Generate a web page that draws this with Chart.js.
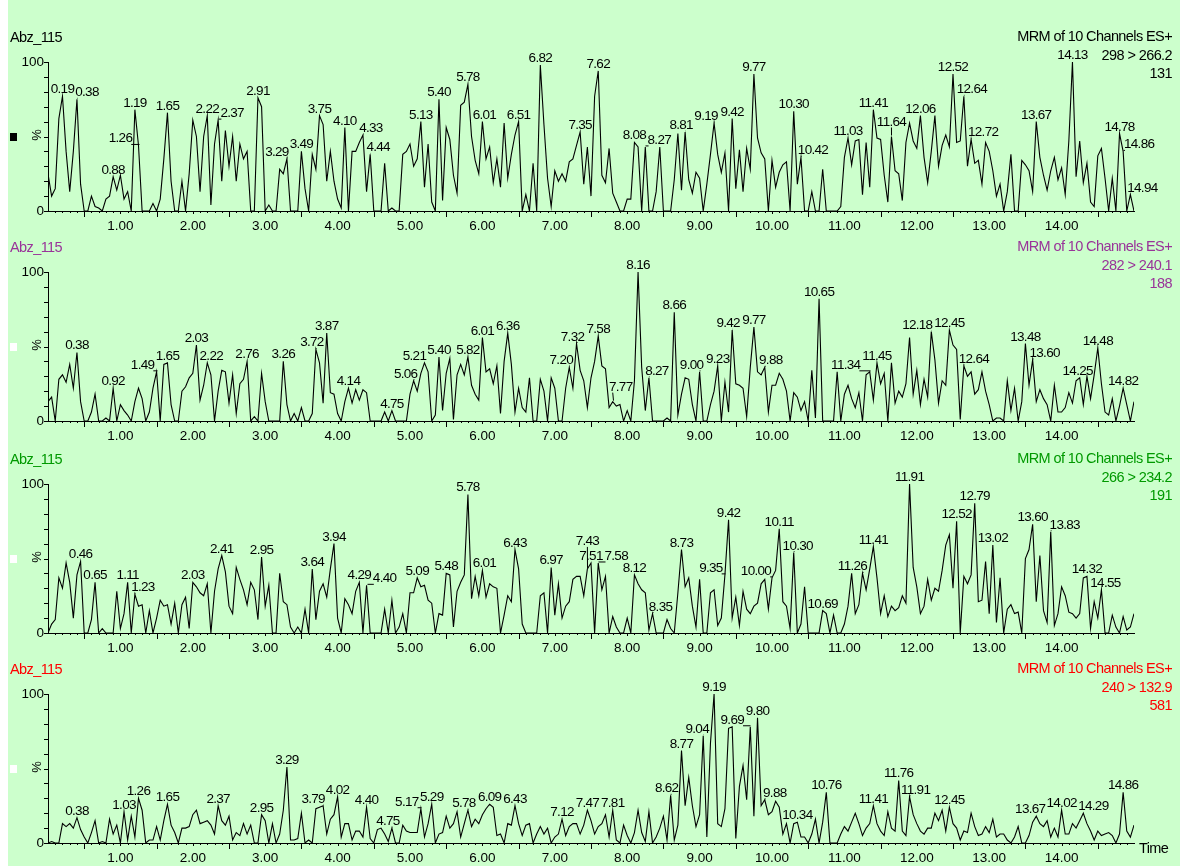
<!DOCTYPE html>
<html>
<head>
<meta charset="utf-8">
<title>Abz_115 MRM chromatograms</title>
<script src="https://cdn.jsdelivr.net/npm/chart.js@4.4.0/dist/chart.umd.min.js"></script>
<style>
  html, body { margin: 0; padding: 0; background: #ffffff; }
  #page { position: relative; width: 1180px; height: 866px; overflow: hidden; }
  #bg { position: absolute; left: 8px; top: 0; width: 1172px; height: 866px; background: #ccffcc; }
  #page canvas { position: absolute; left: 0; top: 0; }
</style>
</head>
<body>
<div id="page">
  <div id="bg"></div>
  <canvas id="c1" width="1180" height="866"></canvas>
  <canvas id="c2" width="1180" height="866"></canvas>
  <canvas id="c3" width="1180" height="866"></canvas>
  <canvas id="c4" width="1180" height="866"></canvas>
</div>
<script>
// samples every 0.05 min from 0.00 to 15.00, one row per minute
const STEP = 0.05;
const X_MAX = 15;

const P1_VALUES = [
  25,10,15,62,77,40,13,40,75,18,0,0,10,3,2,0,8,10,23,14,
  24,8,13,0,68,44,0,0,0,5,0,8,35,66,20,0,0,20,0,25,
  61,50,13,50,64,4,45,61,20,54,30,50,20,45,35,40,0,0,76,70,
  0,4,0,0,28,25,35,0,0,0,40,15,0,38,28,64,58,20,40,20,
  8,2,56,0,40,40,46,51,13,38,0,0,0,32,0,2,0,0,38,40,
  45,30,35,60,16,45,6,0,75,7,56,48,24,12,71,73,85,50,34,25,
  60,35,43,19,35,16,59,22,38,51,60,0,11,0,32,0,98,58,22,3,
  27,20,25,20,33,35,44,53,18,43,10,77,94,24,19,42,12,6,0,0,
  8,8,46,43,0,43,0,0,13,43,0,0,0,21,52,14,53,21,12,26,
  22,0,18,38,59,38,26,39,0,62,15,41,13,42,28,92,49,39,35,0,
  34,16,26,31,33,0,67,18,36,0,0,13,0,0,28,0,0,0,0,3,
  36,49,31,47,48,11,46,16,68,49,48,24,6,50,27,25,7,46,59,47,
  42,64,36,19,40,64,30,44,51,43,92,46,47,77,30,48,32,34,18,46,
  40,27,10,18,0,13,38,0,0,34,31,27,13,60,36,24,14,27,36,21,
  29,11,47,100,23,47,19,32,6,3,37,42,22,0,22,0,52,40,0,11,
  0
];
const P2_VALUES = [
  13,16,0,28,31,26,38,22,46,13,0,0,6,18,0,0,2,0,22,0,
  11,7,4,0,13,22,15,0,6,22,33,0,38,39,11,0,0,20,23,29,
  32,51,14,24,39,31,0,20,34,33,12,31,5,25,28,40,0,3,0,32,
  13,0,0,0,0,40,11,0,5,0,9,0,0,5,48,39,12,59,19,18,
  5,0,13,22,12,21,14,21,19,0,0,0,0,6,0,7,0,0,0,0,
  18,27,20,32,39,33,0,4,43,7,32,42,1,31,38,31,43,24,18,14,
  56,33,35,25,37,5,40,59,38,6,22,9,6,29,0,0,28,20,0,29,
  22,0,0,22,36,22,52,34,27,9,29,40,57,37,35,9,13,10,11,0,
  7,0,27,100,36,7,29,0,0,0,0,2,0,73,4,18,29,28,11,0,
  33,0,0,11,20,37,0,26,6,61,25,24,22,3,36,63,33,31,36,6,
  24,24,32,28,20,0,19,16,7,13,0,34,2,82,0,0,0,0,33,0,
  18,24,15,9,19,0,31,33,14,39,25,32,0,39,12,20,16,25,56,18,
  34,11,28,16,60,41,12,27,24,61,51,48,1,37,30,33,18,21,33,20,
  11,0,2,2,0,27,7,22,0,13,52,24,41,13,21,15,11,0,24,6,
  6,9,19,12,27,29,11,30,15,31,49,25,6,4,15,0,10,22,11,0,
  13
];
const P3_VALUES = [
  0,6,9,37,30,47,34,10,39,48,0,0,9,34,0,3,0,0,0,28,
  3,13,34,0,26,18,19,0,15,0,10,22,18,19,6,20,0,19,24,3,
  34,31,27,25,33,0,28,43,52,41,18,13,44,36,29,19,34,29,9,51,
  18,32,0,0,40,21,19,4,0,4,0,16,0,43,9,28,33,24,43,60,
  10,0,23,19,13,28,34,0,32,0,0,0,0,16,0,22,0,4,13,0,
  27,27,37,31,32,22,20,0,13,12,40,39,4,28,34,39,93,23,38,25,
  42,24,33,31,30,0,12,25,21,56,43,6,0,0,0,0,25,27,0,44,
  12,33,10,18,21,36,38,38,25,43,47,0,47,29,38,0,11,4,0,0,
  10,0,39,33,29,27,2,13,0,0,0,9,3,0,27,56,31,37,18,4,
  36,0,0,27,29,5,10,39,76,10,24,5,28,16,13,18,20,33,36,16,
  37,42,70,21,18,3,54,0,6,31,0,0,0,0,15,13,0,12,0,0,
  6,18,40,13,19,40,29,43,58,37,13,25,11,18,15,17,25,20,100,44,
  31,13,18,36,22,30,28,42,59,66,30,75,0,38,33,39,87,21,22,48,
  13,59,7,37,0,16,19,13,14,0,50,56,73,21,52,15,7,68,5,13,
  31,25,14,13,10,13,37,38,3,21,10,29,0,0,12,4,0,11,2,4,
  13
];
const P4_VALUES = [
  0,1,0,0,13,11,13,10,17,9,4,0,7,15,0,1,0,16,6,12,
  0,21,2,18,4,30,22,0,2,2,11,2,15,26,12,7,0,10,10,11,
  19,22,13,14,15,12,6,25,15,12,18,2,7,5,13,6,12,0,0,19,
  15,0,13,0,6,22,51,2,2,3,20,0,2,0,23,24,25,6,16,19,
  31,4,13,13,2,8,8,4,24,3,0,9,10,6,1,10,0,0,12,8,
  7,7,7,23,4,13,26,0,6,7,18,10,13,21,4,13,22,11,16,13,
  19,23,26,24,5,6,0,13,12,25,13,5,12,13,0,6,11,6,10,0,
  4,6,16,5,11,13,13,6,12,22,15,6,11,13,19,4,22,2,0,12,
  5,0,7,22,7,1,21,0,4,10,18,2,32,2,12,62,25,44,25,11,
  19,72,4,67,100,13,11,23,77,78,3,38,52,29,78,18,84,25,29,19,
  21,28,24,6,13,0,13,14,4,4,0,6,16,0,14,34,0,0,0,6,
  11,8,14,20,13,5,10,13,25,13,8,5,21,10,8,42,8,5,31,19,
  13,8,6,10,10,20,15,22,8,24,13,10,2,8,7,20,11,5,6,11,
  7,16,4,6,6,2,0,4,11,0,0,5,14,18,13,11,15,4,10,4,
  22,6,6,13,10,15,20,13,8,2,8,5,6,7,5,0,6,34,8,4,
  12
];

// labelled retention times (min)
const P1_PEAKS = [0.19,0.38,0.88,1.19,1.26,1.65,2.22,2.37,2.91,3.29,3.49,3.75,4.10,4.33,4.44,5.13,5.40,5.78,6.01,6.51,6.82,7.35,7.62,8.08,8.27,8.81,9.19,9.42,9.77,10.30,10.42,11.03,11.41,11.64,12.06,12.52,12.64,12.72,13.67,14.13,14.78,14.86,14.94];
const P2_PEAKS = [0.38,0.92,1.49,1.65,2.03,2.22,2.76,3.26,3.72,3.87,4.14,4.75,5.06,5.21,5.40,5.82,6.01,6.36,7.20,7.32,7.58,7.77,8.16,8.27,8.66,9.00,9.23,9.42,9.77,9.88,10.65,11.34,11.45,12.18,12.45,12.64,13.48,13.60,14.25,14.48,14.82];
const P3_PEAKS = [0.46,0.65,1.11,1.23,2.03,2.41,2.95,3.64,3.94,4.29,4.40,5.09,5.48,5.78,6.01,6.43,6.97,7.43,7.51,7.58,8.12,8.35,8.73,9.35,9.42,10.00,10.11,10.30,10.69,11.26,11.41,11.91,12.52,12.79,13.02,13.60,13.83,14.32,14.55];
const P4_PEAKS = [0.38,1.03,1.26,1.65,2.37,2.95,3.29,3.79,4.02,4.40,4.75,5.17,5.29,5.78,6.09,6.43,7.12,7.47,7.81,8.62,8.77,9.04,9.19,9.69,9.80,9.88,10.34,10.76,11.41,11.76,11.91,12.45,13.67,14.02,14.29,14.86];

const TRANSITIONS = ['298 > 266.2', '282 > 240.1', '266 > 234.2', '240 > 132.9'];
const COUNTS = ['131', '188', '191', '581'];

const FONT = '"Liberation Sans", Arial, sans-serif';
const CAP = 10;

const panels = [
  { canvas: 'c1', values: P1_VALUES, peaks: P1_PEAKS, top: 62, bottom: 211, color: '#000000', marker: '#000000' },
  { canvas: 'c2', values: P2_VALUES, peaks: P2_PEAKS, top: 272, bottom: 421, color: '#993399', marker: '#ffffff' },
  { canvas: 'c3', values: P3_VALUES, peaks: P3_PEAKS, top: 484, bottom: 633, color: '#009900', marker: '#ffffff' },
  { canvas: 'c4', values: P4_VALUES, peaks: P4_PEAKS, top: 694, bottom: 843, color: '#ff0000', marker: '#ffffff', time: true },
];

const decorPlugin = {
  id: 'decor',
  afterDraw(chart, args, o) {
    const { ctx, chartArea: a, scales: { x, y } } = chart;
    ctx.save();
    ctx.strokeStyle = '#000';
    ctx.lineWidth = 1;
    ctx.beginPath();
    for (let v = 0; v <= 100; v += 10) {
      const py = Math.round(y.getPixelForValue(v)) + 0.5;
      ctx.moveTo(a.left - 4, py);
      ctx.lineTo(a.left, py);
    }
    for (let k = 1; k < X_MAX * 10; k++) {
      const px = Math.round(x.getPixelForValue(k / 10)) + 0.5;
      const len = k % 5 === 0 ? (k % 10 === 0 ? 3 : 6) : 2;
      ctx.moveTo(px, a.bottom);
      ctx.lineTo(px, a.bottom + len);
    }
    ctx.stroke();

    ctx.fillStyle = o.color;
    ctx.font = '14.5px ' + FONT;
    ctx.letterSpacing = '-0.6px';
    ctx.textBaseline = 'middle';
    ctx.textAlign = 'left';
    ctx.fillText('Abz_115', 10, a.top - 24.5);
    ctx.textAlign = 'right';
    ctx.fillText('MRM of 10 Channels ES+', 1172, a.top - 25);
    ctx.fillText(o.transition, 1172, a.top - 6);
    ctx.fillText(o.count, 1172, a.top + 12);

    ctx.fillStyle = o.marker;
    ctx.fillRect(10, a.top + 71, 7, 8);

    ctx.fillStyle = '#000';
    ctx.letterSpacing = '0px';
    ctx.save();
    ctx.translate(37.5, a.top + 73);
    ctx.rotate(-Math.PI / 2);
    ctx.textAlign = 'center';
    ctx.font = '13px ' + FONT;
    ctx.fillText('%', 0, 0);
    ctx.restore();

    if (o.time) {
      ctx.textAlign = 'left';
      ctx.font = '14.5px ' + FONT;
      ctx.letterSpacing = '-0.6px';
      ctx.fillText('Time', 1139, a.bottom + 6);
    }
    ctx.restore();
  }
};

// peak labels: highest peaks first, each label moved sideways/up (with a leader)
// when it would sit on another label or on the trace
const peakLabelPlugin = {
  id: 'peakLabels',
  afterDatasetsDraw(chart, args, o) {
    const { ctx, scales: { x, y } } = chart;
    const values = o.values;
    const vx = values.map((v, i) => x.getPixelForValue(i * STEP));
    const vy = values.map(v => y.getPixelForValue(v));
    const traceAt = px => {
      const t = x.getValueForPixel(px) / STEP;
      const i = Math.max(0, Math.min(values.length - 2, Math.floor(t)));
      const f = Math.max(0, Math.min(1, t - i));
      return vy[i] + (vy[i + 1] - vy[i]) * f;
    };
    const traceTop = (l, r) => {
      let top = Math.min(traceAt(l), traceAt(r));
      vx.forEach((px, i) => { if (px >= l && px <= r && vy[i] < top) top = vy[i]; });
      return top;
    };
    const boxes = [];
    const hits = b => boxes.some(p => b.l < p.r + 1 && b.r + 1 > p.l && b.t < p.b + 1 && b.b + 1 > p.t);

    ctx.save();
    ctx.font = '13.5px ' + FONT;
    ctx.letterSpacing = '-0.7px';
    ctx.fillStyle = '#000';
    ctx.strokeStyle = '#000';
    ctx.lineWidth = 1;
    ctx.textAlign = 'left';
    ctx.textBaseline = 'alphabetic';

    const items = o.peaks.map(t => {
      let best = -1;
      values.forEach((v, i) => {
        if (Math.abs(i * STEP - t) <= 0.035 && (best < 0 || v > values[best])) best = i;
      });
      return { text: t.toFixed(2), px: vx[best], py: vy[best] };
    }).sort((a, b) => a.py - b.py);

    const RAISES = [3, 7, 11, 15, 19, 24, 30, 36, 44];
    for (const it of items) {
      const w = ctx.measureText(it.text).width;
      let pick = null, cost = Infinity;
      for (const r of RAISES) {
        for (let d = -70; d <= 70; d += 2) {
          const c = Math.abs(d) + 1.6 * (r - 3);
          if (c >= cost) continue;
          const b = { l: it.px - w / 2 + d, r: it.px + w / 2 + d, b: it.py - r, t: it.py - r - CAP };
          if (hits(b) || traceTop(b.l - 1, b.r + 1) < b.b + 1) continue;
          pick = b; cost = c;
        }
      }
      if (!pick) pick = { l: it.px - w / 2, r: it.px + w / 2, b: it.py - 3, t: it.py - 3 - CAP };
      boxes.push(pick);
      const cx = (pick.l + pick.r) / 2;
      if (Math.abs(cx - it.px) > 3 || it.py - pick.b > 6) {
        const ex = Math.max(pick.l + 1, Math.min(pick.r - 1, it.px));
        ctx.beginPath();
        ctx.moveTo(Math.round(it.px) + 0.5, it.py - 1);
        ctx.lineTo(ex, pick.b + 2);
        ctx.stroke();
      }
      ctx.fillText(it.text, pick.l, pick.b);
    }
    ctx.restore();
  }
};

Chart.defaults.font.family = FONT;
Chart.defaults.color = '#000';

panels.forEach((p, n) => {
  new Chart(document.getElementById(p.canvas), {
    type: 'line',
    data: {
      datasets: [{
        data: p.values.map((v, i) => ({ x: +(i * STEP).toFixed(2), y: v })),
        borderColor: '#000',
        borderWidth: 1.1,
        pointRadius: 0,
        tension: 0,
        fill: false
      }]
    },
    options: {
      responsive: false,
      animation: false,
      events: [],
      layout: { padding: { left: 0, right: 46, top: p.top, bottom: 866 - p.bottom - 30 } },
      plugins: {
        legend: { display: false },
        tooltip: { enabled: false },
        decor: { color: p.color, marker: p.marker, transition: TRANSITIONS[n], count: COUNTS[n], time: !!p.time },
        peakLabels: { values: p.values, peaks: p.peaks }
      },
      scales: {
        x: {
          type: 'linear',
          min: 0,
          max: X_MAX,
          afterFit: s => { s.height = 30; },
          grid: { display: false, drawTicks: false },
          border: { color: '#000', width: 1 },
          ticks: {
            stepSize: 1,
            autoSkip: false,
            maxRotation: 0,
            padding: 7,
            font: { size: 13.5 },
            callback: v => (v >= 1 && v <= 14) ? v.toFixed(2) : ''
          }
        },
        y: {
          min: 0,
          max: 100,
          afterFit: s => { s.width = 48; },
          grid: { display: false, drawTicks: false },
          border: { color: '#000', width: 1 },
          ticks: { stepSize: 100, padding: 4, font: { size: 13.5 } }
        }
      }
    },
    plugins: [decorPlugin, peakLabelPlugin]
  });
});
</script>
</body>
</html>
